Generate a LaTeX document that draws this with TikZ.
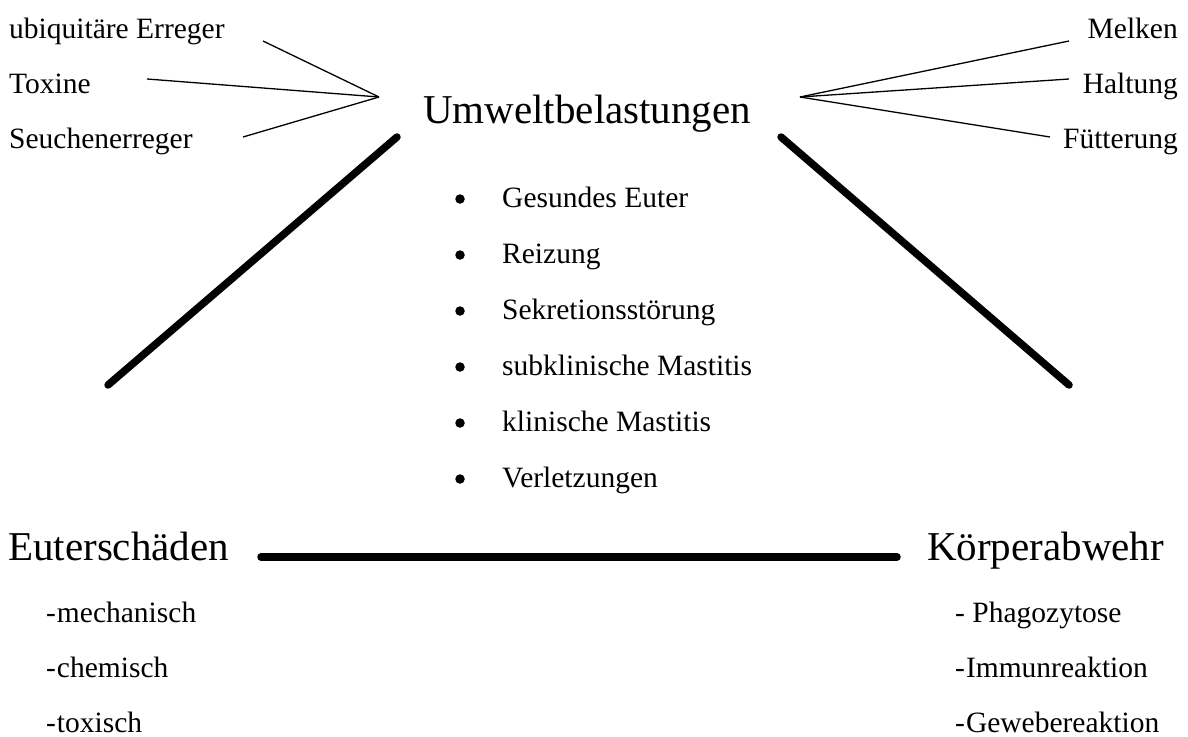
\documentclass[tikz,border=0pt]{standalone}
\usepackage{fontspec}
\setmainfont{Liberation Serif}
\begin{document}
\begin{tikzpicture}[x=1pt,y=-1pt,
  small/.style={inner sep=0pt,font=\fontsize{29.5}{35}\selectfont},
  big/.style={inner sep=0pt,font=\fontsize{41}{48}\selectfont},
  thin/.style={line width=1.3pt},
  thick/.style={line width=7.5pt,line cap=round},
  bul/.style={circle,fill=black,inner sep=0pt,minimum size=9.5pt}]
\useasboundingbox (0,0) rectangle (1188,736);
% left inputs
\node[small,anchor=base west] (ub) at (9,38) {ubiquitäre Erreger};
\node[small,anchor=base west] (tox) at (9,93) {Toxine};
\node[small,anchor=base west] (seu) at (9,148) {Seuchenerreger};
% right inputs
\node[small,anchor=base east] (mel) at (1178,38) {Melken};
\node[small,anchor=base east] (hal) at (1178,93) {Haltung};
\node[small,anchor=base east] (fut) at (1178,148) {Fütterung};
% title
\node[big,anchor=base west] (umw) at (423,123) {Umweltbelastungen};
% fan coordinates
\coordinate (la) at (379,97);
\coordinate (ra) at (800,97);
\coordinate (ub1) at (263,41);
\coordinate (tox1) at (147,79);
\coordinate (seu1) at (243,137);
\coordinate (mel1) at (1069,41);
\coordinate (hal1) at (1069,79);
\coordinate (fut1) at (1050,137);
\draw[thin] (ub1) -- (la);
\draw[thin] (tox1) -- (la);
\draw[thin] (seu1) -- (la);
\draw[thin] (mel1) -- (ra);
\draw[thin] (hal1) -- (ra);
\draw[thin] (fut1) -- (ra);
% bullet list
\foreach \y/\t/\n in {207/Gesundes Euter/i1,263/Reizung/i2,319/Sekretionsstörung/i3,375/subklinische Mastitis/i4,431/klinische Mastitis/i5,487/Verletzungen/i6}{
  \node[bul] (b\n) at (460,\y-8) {};
  \node[small,anchor=base west] (\n) at (502,\y) {\t};
}
% bottom corners
\node[big,anchor=base west] (eut) at (8,560) {Euterschäden};
\node[big,anchor=base west] (koe) at (927,560) {Körperabwehr};
\node[small,anchor=base west] (e1) at (46,622) {-\kern1pt mechanisch};
\node[small,anchor=base west] (e2) at (46,677) {-\kern1pt chemisch};
\node[small,anchor=base west] (e3) at (46,732) {-\kern1pt toxisch};
\node[small,anchor=base west] (k1) at (955,622) {- Phagozytose};
\node[small,anchor=base west] (k2) at (955,677) {-\kern1pt Immunreaktion};
\node[small,anchor=base west] (k3) at (955,732) {-\kern1pt Gewebereaktion};
% thick triangle sides
\coordinate (tl) at (397,137);
\coordinate (bl) at (108,385);
\coordinate (tr) at (781,137);
\coordinate (br) at (1069,385);
\coordinate (hl) at (261,557);
\coordinate (hr) at (897,557);
\draw[thick] (tl) -- (bl);
\draw[thick] (tr) -- (br);
\draw[thick] (hl) -- (hr);
\end{tikzpicture}
\end{document}
